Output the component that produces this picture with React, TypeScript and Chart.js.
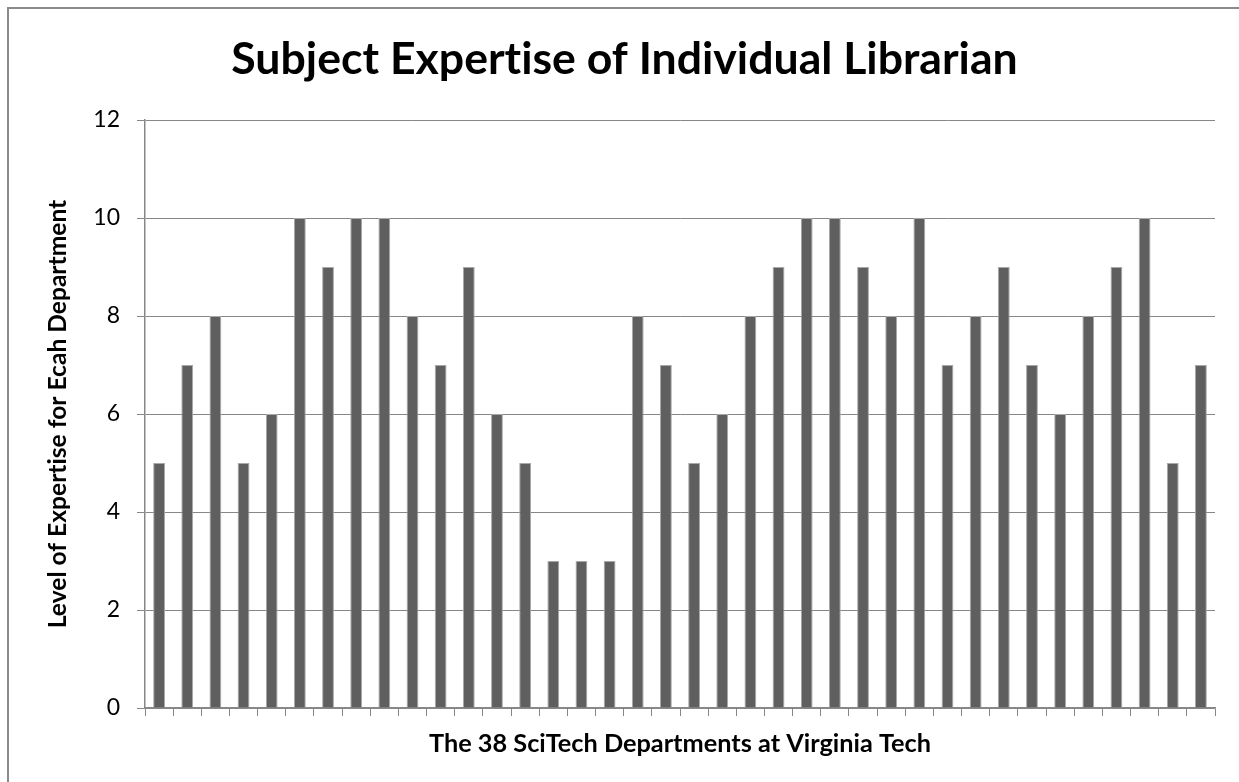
import React, { useEffect, useRef } from "react";
import { Chart, registerables } from "chart.js";

Chart.register(...registerables);

const departments: string[] = [
  "1","2","3","4","5","6","7","8","9","10",
  "11","12","13","14","15","16","17","18","19","20",
  "21","22","23","24","25","26","27","28","29","30",
  "31","32","33","34","35","36","37","38",
];
const expertise: number[] = [
  5, 7, 8, 5, 6, 10, 9, 10, 10, 8,
  7, 9, 6, 5, 3, 3, 3, 8, 7, 5,
  6, 8, 9, 10, 10, 9, 8, 10, 7, 8,
  9, 7, 6, 8, 9, 10, 5, 7,
];
const yTicks: number[] = [0, 2, 4, 6, 8, 10, 12];

const titleText = "Subject Expertise of Individual Librarian";
const xTitleText = "The 38 SciTech Departments at Virginia Tech";
const yTitleText = "Level of Expertise for Ecah Department";

const FONT = "Lato, 'Open Sans', sans-serif";
const GRID = "#878787";

const noLigatures = {
  id: "noLigatures",
  beforeUpdate(chart: any) {
    (chart.ctx as any).textRendering = "optimizeSpeed";
  },
  beforeDraw(chart: any) {
    (chart.ctx as any).textRendering = "optimizeSpeed";
  },
};

export default function App() {
  const ref = useRef<HTMLCanvasElement | null>(null);
  useEffect(() => {
    document.body.style.margin = "0";
    document.body.style.overflow = "hidden";
    document.documentElement.style.overflow = "hidden";
    const canvas = ref.current;
    if (!canvas) return;
    const chart = new Chart(canvas, {
      type: "bar",
      data: {
        labels: departments,
        datasets: [
          {
            data: expertise,
            backgroundColor: "#5f5f5f",
            borderColor: "#a8a8a8",
            borderWidth: 1,
            barPercentage: 0.42,
            categoryPercentage: 1,
          },
        ],
      },
      plugins: [noLigatures],
      options: {
        animation: false,
        responsive: false,
        maintainAspectRatio: false,
        layout: { padding: { left: 25, right: 24, top: 0, bottom: 0 } },
        plugins: {
          legend: { display: false },
          tooltip: { enabled: false },
          title: {
            display: true,
            text: titleText,
            color: "#000",
            font: { family: FONT, size: 44.6, weight: "bold", lineHeight: 1.2 },
            padding: { top: 24, bottom: 33.5 },
          },
        },
        scales: {
          x: {
            type: "category",
            offset: true,
            grid: {
              offset: true,
              drawOnChartArea: false,
              drawTicks: true,
              tickLength: 8,
              color: GRID,
              lineWidth: 1,
            },
            border: { display: true, color: GRID, width: 1.5 },
            ticks: { display: false },
            title: {
              display: true,
              text: xTitleText,
              color: "#000",
              font: { family: FONT, size: 25.3, weight: "bold", lineHeight: 1.2 },
              padding: { top: 12, bottom: 23 },
            },
            afterFit: (s: any) => {
              s.height = 74;
            },
          },
          y: {
            min: 0,
            max: 12,
            afterBuildTicks: (s: any) => {
              s.ticks = yTicks.map((v) => ({ value: v }));
            },
            grid: {
              color: GRID,
              lineWidth: 1,
              drawTicks: true,
              tickLength: 8,
            },
            border: { display: true, color: GRID, width: 1.5 },
            ticks: {
              color: "#000",
              padding: 17,
              font: { family: FONT, size: 23 },
            },
            title: {
              display: true,
              text: yTitleText,
              color: "#000",
              font: { family: FONT, size: 24.6, weight: "bold", lineHeight: 1.2 },
              padding: { top: 9.5, bottom: 0 },
            },
            afterFit: (s: any) => {
              s.width = 111;
            },
          },
        },
      },
    });
    return () => chart.destroy();
  }, []);

  return (
    <div
      style={{
        position: "absolute",
        left: 7,
        top: 7,
        width: 1230,
        height: 773,
        borderTop: "2px solid #8a8a8a",
        borderLeft: "2px solid #8a8a8a",
        background: "#fff",
      }}
    >
      <canvas ref={ref} width={1230} height={773} style={{ display: "block" }} />
    </div>
  );
}
